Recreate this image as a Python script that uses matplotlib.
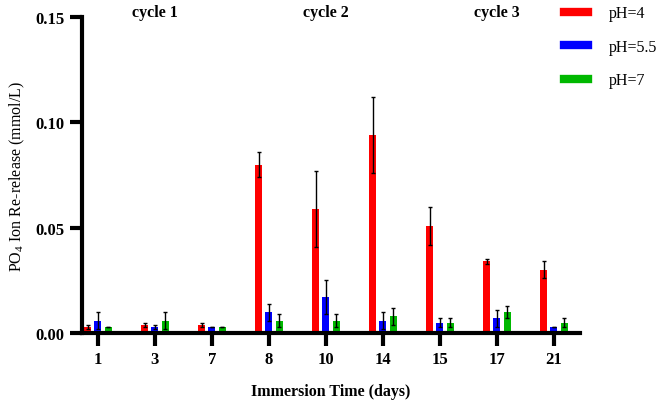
import matplotlib
matplotlib.use("Agg")
import matplotlib.pyplot as plt
import numpy as np
from matplotlib.lines import Line2D

days = ["1", "3", "7", "8", "10", "14", "15", "17", "21"]
ph4 = [0.003, 0.004, 0.004, 0.080, 0.059, 0.094, 0.051, 0.034, 0.030]
ph4_err = [0.001, 0.001, 0.001, 0.006, 0.018, 0.018, 0.009, 0.001, 0.004]
ph55 = [0.006, 0.003, 0.003, 0.010, 0.017, 0.006, 0.005, 0.007, 0.003]
ph55_err = [0.004, 0.001, 0.000, 0.004, 0.008, 0.004, 0.002, 0.004, 0.000]
ph7 = [0.003, 0.006, 0.003, 0.006, 0.006, 0.008, 0.005, 0.010, 0.005]
ph7_err = [0.000, 0.004, 0.000, 0.003, 0.003, 0.004, 0.002, 0.003, 0.002]
series = ["pH=4", "pH=5.5", "pH=7"]
colors = ["#ff0000", "#0000ff", "#00b800"]
cycles = ["cycle 1", "cycle 2", "cycle 3"]

plt.rcParams['font.family'] = ['Liberation Serif']
plt.rcParams['mathtext.fontset'] = 'custom'
plt.rcParams['mathtext.rm'] = 'Liberation Serif'

fig = plt.figure(figsize=(6.66, 4.10), dpi=100)
ax = fig.add_axes([0.123, 0.185, 0.748, 0.771])
x = np.arange(len(days))
w = 0.12
off = 0.18
for i, (vals, errs) in enumerate([(ph4, ph4_err), (ph55, ph55_err), (ph7, ph7_err)]):
    ax.bar(x + (i - 1) * off, vals, width=w, color=colors[i], zorder=2)
    ax.errorbar(x + (i - 1) * off, vals, yerr=errs, fmt='none', ecolor='black',
                elinewidth=1, capsize=1.5, capthick=1, zorder=3)

ax.set_xlim(-0.28, 8.46)
ax.set_ylim(0, 0.15)
ax.set_yticks([0, 0.05, 0.10, 0.15])
ax.set_yticklabels(["0.00", "0.05", "0.10", "0.15"])
ax.set_xticks(x)
ax.set_xticklabels(days)
for s in ["top", "right"]:
    ax.spines[s].set_visible(False)
for s in ["left", "bottom"]:
    ax.spines[s].set_linewidth(3)
ax.tick_params(axis='both', width=3, length=9, labelsize=12)
for lab in ax.get_xticklabels() + ax.get_yticklabels():
    lab.set_fontweight('bold')
ax.set_xlabel("Immersion Time (days)", fontsize=11.5, fontweight='bold', labelpad=12)
ax.set_ylabel("PO$_4$ Ion Re-release (mmol/L)", fontsize=11.5, labelpad=6)

for cx, name in zip([1, 4, 7], cycles):
    ax.text(cx, 0.1525, name, ha='center', va='center', fontsize=11.5,
            fontweight='bold', clip_on=False)

handles = [Line2D([0], [0], color=c, lw=6) for c in colors]
fig.legend(handles, series, loc='upper left', bbox_to_anchor=(0.825, 1.02),
           frameon=False, fontsize=11.5, handlelength=1.5, labelspacing=1.1, handletextpad=1.3)

fig.savefig("out.png", dpi=100)
